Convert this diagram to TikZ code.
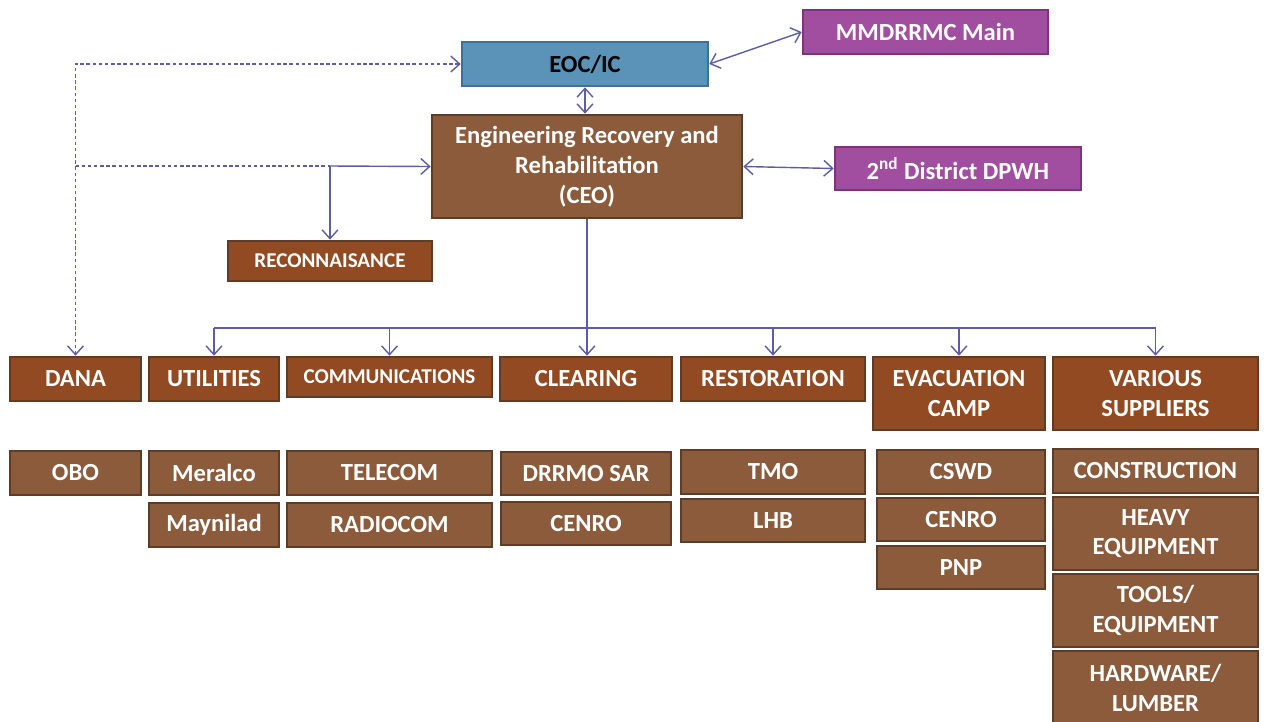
\documentclass[tikz,border=0pt]{standalone}
\usepackage{fontspec}
\setmainfont{Carlito}
\usetikzlibrary{arrows.meta}

\definecolor{eocfill}{HTML}{5B92B8}
\definecolor{eocline}{HTML}{3F7196}
\definecolor{mainfill}{HTML}{A14DA0}
\definecolor{mainline}{HTML}{7A357E}
\definecolor{rustfill}{HTML}{924A22}
\definecolor{rustline}{HTML}{633A22}
\definecolor{brownfill}{HTML}{8B5B3C}
\definecolor{brownline}{HTML}{5E3C26}
\definecolor{linkcol}{HTML}{5B5EA3}

\tikzset{
  box/.style={draw, line width=1.5pt, text=white, align=center, inner sep=0pt,
    font=\bfseries\fontsize{14}{17}\selectfont},
  boxsize/.style 2 args={minimum width=#1*0.02cm, minimum height=#2*0.02cm},
  eocbox/.style={box, fill=eocfill, draw=eocline, text=black},
  mainbox/.style={box, fill=mainfill, draw=mainline},
  rustbox/.style={box, fill=rustfill, draw=rustline},
  subbox/.style={box, fill=brownfill, draw=brownline},
  small/.style={font=\bfseries\fontsize{12}{14}\selectfont},
  link/.style={draw=linkcol, line width=0.8pt},
  tip/.style={-{Straight Barb[length=5pt,width=9pt]}},
  dtip/.style={{Straight Barb[length=5pt,width=9pt]}-{Straight Barb[length=5pt,width=9pt]}},
  dashlink/.style={link, dash pattern=on 2pt off 1.5pt}
}

\begin{document}
\begin{tikzpicture}[x=0.02cm, y=-0.02cm]
\useasboundingbox (0,0) rectangle (1266,721);
\clip (0,0) rectangle (1266,721);

% top
\node (eoc) at (585,64) [eocbox, boxsize={246}{44}] {EOC/IC};
\node (mmd) at (925.5,32) [mainbox, boxsize={245}{44}] {MMDRRMC Main};
\node (err) at (587,166.5) [subbox, boxsize={310}{103}] {Engineering Recovery and\\Rehabilitation\\(CEO)};
\node (dpwh) at (958,168.5) [mainbox, boxsize={246}{43}] {2\textsuperscript{nd} District DPWH};
\node (recon) at (330,261) [rustbox, small, boxsize={204}{40}] {RECONNAISANCE};

% teams
\node (dana) at (75.5,379) [rustbox, boxsize={131}{44}] {DANA};
\node (util) at (214,379) [rustbox, boxsize={130}{44}] {UTILITIES};
\node (comm) at (389.5,377) [rustbox, small, boxsize={205}{40}] {COMMUNICATIONS};
\node (clear) at (586,379) [rustbox, boxsize={172}{44}] {CLEARING};
\node (resto) at (773,379) [rustbox, boxsize={184}{44}] {RESTORATION};
\node (evac) at (959,393.5) [rustbox, boxsize={172}{73}] {EVACUATION\\CAMP};
\node (vari) at (1155.5,393.5) [rustbox, boxsize={205}{73}] {VARIOUS\\SUPPLIERS};

% members
\node (obo) at (75.5,473) [subbox, boxsize={131}{44}] {OBO};
\node (meralco) at (214,473) [subbox, boxsize={130}{44}] {Meralco};
\node (maynilad) at (214,525) [subbox, boxsize={130}{44}] {Maynilad};
\node (telecom) at (389.5,473) [subbox, boxsize={205}{44}] {TELECOM};
\node (radiocom) at (389.5,525) [subbox, boxsize={205}{44}] {RADIOCOM};
\node (drrmo) at (586,473.5) [subbox, boxsize={170}{43}] {DRRMO SAR};
\node (cenroa) at (586,523.5) [subbox, boxsize={170}{43}] {CENRO};
\node (tmo) at (773,472) [subbox, boxsize={184}{44}] {TMO};
\node (lhb) at (773,520.5) [subbox, boxsize={184}{43}] {LHB};
\node (cswd) at (961,472) [subbox, boxsize={168}{44}] {CSWD};
\node (cenrob) at (961,519.5) [subbox, boxsize={168}{43}] {CENRO};
\node (pnp) at (961,567.5) [subbox, boxsize={168}{43}] {PNP};
\node (constr) at (1155.5,471) [subbox, boxsize={205}{44}] {CONSTRUCTION};
\node (heavy) at (1155.5,533.5) [subbox, boxsize={205}{73}] {HEAVY\\EQUIPMENT};
\node (tools) at (1155.5,610.5) [subbox, boxsize={205}{73}] {TOOLS/\\EQUIPMENT};
\node (hardw) at (1155.5,688) [subbox, boxsize={205}{74}] {HARDWARE/\\LUMBER};

% connectors
\draw [link, dtip] (eoc.east) -- (mmd.west);
\draw [link, dtip] (eoc.south) -- (eoc.south |- err.north);
\draw [link, dtip] (err.east) -- (dpwh.west);
\coordinate (jr) at (330,166);
\draw [link, tip] (jr) -- (err.west);
\draw [link, tip] (jr) -- (recon.north);
\draw [dashlink, dtip] (eoc.west) -| (dana.north);
\draw [dashlink] (dana.north |- jr) -- (jr);
\coordinate (bus) at (587,328);
\draw [link, tip] (err.south) -- (err.south |- clear.north);
\draw [link] (util.north |- bus) -- (vari.north |- bus);
\foreach \n in {util,comm,resto,evac,vari}
  \draw [link, tip] (\n.north |- bus) -- (\n.north);
\end{tikzpicture}
\end{document}
